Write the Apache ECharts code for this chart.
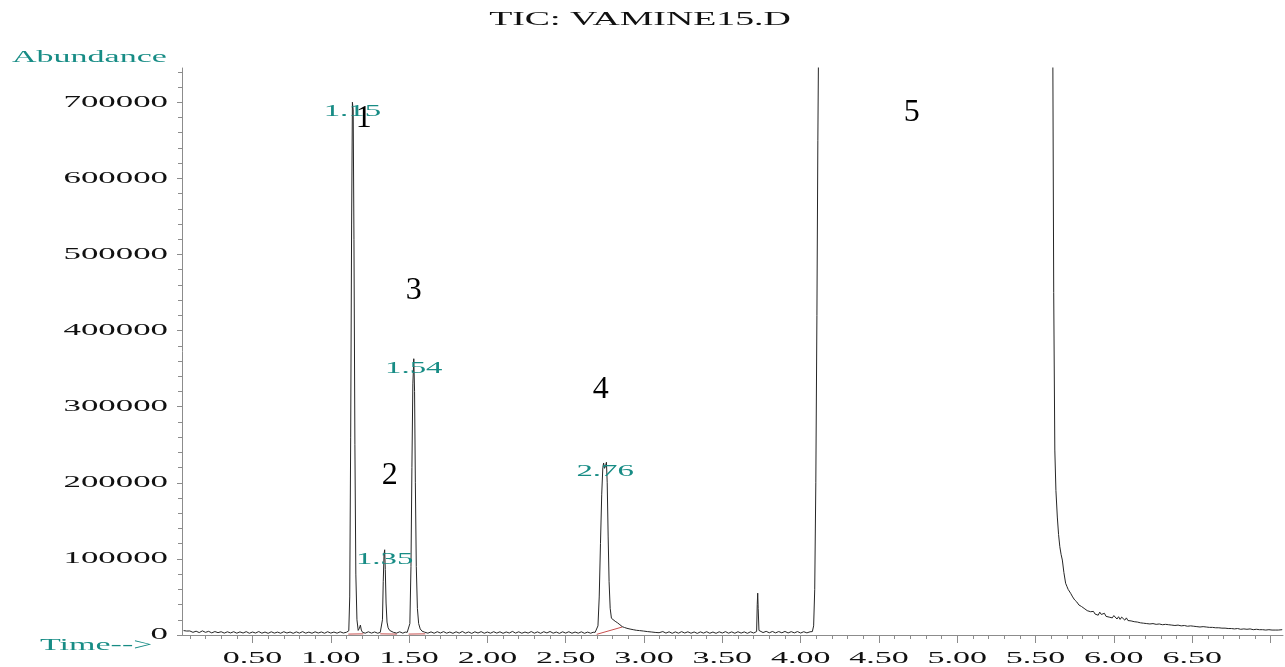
<!DOCTYPE html>
<html><head><meta charset="utf-8">
<script src="https://cdn.jsdelivr.net/npm/echarts@6/dist/echarts.min.js"></script>
<style>html,body{margin:0;padding:0;background:#fff}#c{width:1285px;height:667px}</style>
</head><body><div id="c"></div>
<script>
// ---- data (time in min, abundance) ----
const baselineStart = [[0.06,5800],[0.07,4000],[0.08,5200],[0.09,3600],[0.10,5300],[0.12,3500],[0.14,5000],[0.16,3200],[0.18,5400],[0.20,3500],[0.22,4800],[0.24,2800],[0.26,4500],[0.28,3100],[0.30,4300],[0.32,2500],[0.34,4200],[0.36,2700],[0.38,4300],[0.40,2400],[0.42,4100],[0.44,2600],[0.46,4400],[0.48,2300],[0.50,3900],[0.52,2600],[0.54,4500],[0.56,2400],[0.58,3900],[0.60,2200],[0.62,4200],[0.64,2500],[0.66,3800],[0.68,2300],[0.70,4300],[0.72,2600],[0.74,3900],[0.76,2200],[0.78,4100],[0.80,2500],[0.82,4400],[0.84,2400],[0.86,3800],[0.88,2300],[0.90,4200],[0.92,2600],[0.94,4000],[0.96,2300],[0.98,4300],[1.00,2500],[1.02,3900],[1.04,2400],[1.06,4200],[1.08,2600],[1.10,3600]];
const peak1 = [[1.108,3500],[1.115,5500],[1.121,50000],[1.127,260000],[1.133,540000],[1.138,700000],[1.143,690000],[1.148,520000],[1.154,250000],[1.160,80000],[1.167,20000],[1.175,6000],[1.183,9000],[1.189,13000],[1.195,6500],[1.203,3500]];
const between12 = [[1.22,2400],[1.24,4200],[1.26,2500],[1.28,4000],[1.30,2300],[1.31,3600]];
const peak2 = [[1.316,3500],[1.324,4500],[1.330,20000],[1.335,70000],[1.340,106000],[1.344,112000],[1.348,86000],[1.353,42000],[1.359,17000],[1.366,9500],[1.376,6000],[1.388,4500],[1.400,3500]];
const between23 = [[1.42,2500],[1.44,4200],[1.46,2400],[1.475,3800]];
const peak3 = [[1.488,3500],[1.497,4500],[1.505,15000],[1.512,90000],[1.518,220000],[1.524,330000],[1.530,363000],[1.535,320000],[1.540,200000],[1.546,90000],[1.553,35000],[1.561,15000],[1.571,8000],[1.583,5000],[1.598,3800]];
const between34 = [[1.62,2400],[1.64,4100],[1.66,2300],[1.68,4300],[1.70,2600],[1.72,4400],[1.74,2400],[1.76,3900],[1.78,2200],[1.80,4200],[1.82,2500],[1.84,4600],[1.86,2400],[1.88,4000],[1.90,2100],[1.92,4200],[1.94,2600],[1.96,4400],[1.98,2300],[2.00,3900],[2.02,2400],[2.04,4300],[2.06,2500],[2.08,4200],[2.10,2200],[2.12,4000],[2.14,2600],[2.16,4700],[2.18,2500],[2.20,4200],[2.22,2300],[2.24,3900],[2.26,2500],[2.28,4500],[2.30,2400],[2.32,4100],[2.34,2200],[2.36,4300],[2.38,2700],[2.40,4600],[2.42,2400],[2.44,3900],[2.46,2100],[2.48,4200],[2.50,2500],[2.52,4300],[2.54,2300],[2.56,3900],[2.58,2400],[2.60,4200],[2.62,2200],[2.64,3800],[2.66,2300],[2.675,3600]];
const peak4 = [[2.688,3500],[2.698,4500],[2.706,12000],[2.714,50000],[2.722,120000],[2.730,185000],[2.737,220000],[2.742,226000],[2.748,219000],[2.754,222000],[2.760,227000],[2.765,200000],[2.771,130000],[2.777,70000],[2.784,35000],[2.792,22000],[2.804,19500],[2.816,18000],[2.824,19500],[2.831,16000],[2.838,16500],[2.846,13500],[2.853,14500],[2.861,11000],[2.868,12000],[2.876,9800],[2.884,10500],[2.891,8800],[2.901,9500],[2.911,7800],[2.921,8800],[2.931,7000],[2.941,8000],[2.951,6200],[2.961,7200],[2.971,5800],[2.983,6800],[2.996,5200],[3.008,6200],[3.021,4500],[3.033,5500],[3.046,4000],[3.058,4900],[3.071,3400],[3.083,4400],[3.096,3000]];
const between45 = [[3.12,4500],[3.14,2500],[3.16,4200],[3.18,2200],[3.20,4100],[3.22,2400],[3.24,4400],[3.26,2600],[3.28,4200],[3.30,2300],[3.32,4000],[3.34,2100],[3.36,4100],[3.38,2500],[3.40,4300],[3.42,2300],[3.44,3900],[3.46,2200],[3.48,4200],[3.50,2600],[3.52,4400],[3.54,2400],[3.56,4100],[3.58,2300],[3.60,4300],[3.62,2500],[3.64,4100],[3.66,2200],[3.68,4200],[3.70,2600]];
const spike = [[3.712,3000],[3.719,4500],[3.723,40000],[3.726,55000],[3.729,35000],[3.734,6000],[3.742,4500]];
const beforeMain = [[3.76,3200],[3.78,4800],[3.80,2900],[3.82,4600],[3.84,2800],[3.86,4500],[3.88,2900],[3.90,4700],[3.92,2700],[3.94,4400],[3.96,2800],[3.98,4500],[4.00,2600],[4.02,4300],[4.04,2800],[4.06,4200]];
const peak5 = [[4.075,4500],[4.083,12000],[4.090,60000],[4.097,200000],[4.104,420000],[4.110,650000],[4.116,820000],[4.13,1400000],[4.2,2500000],[4.5,3000000],[5.0,3000000],[5.5,2200000],[5.58,1500000],[5.600,1000000],[5.610,780000],[5.616,450000],[5.623,243000],[5.630,190000],[5.639,155000],[5.647,132000],[5.655,116000],[5.663,106000],[5.671,98500],[5.681,82000],[5.692,68000],[5.700,64000],[5.708,60000],[5.716,57500],[5.724,54800],[5.737,50000],[5.750,46000],[5.763,43500],[5.777,39400],[5.793,37500],[5.810,35000],[5.830,32000],[5.851,30600]];
const tail5 = [[5.87,31000],[5.88,27500],[5.89,29500],[5.90,26000],[5.91,30000],[5.92,27000],[5.93,25000],[5.94,28500],[5.95,24500],[5.96,27000],[5.97,23500],[5.98,26000],[5.99,22500],[6.00,25500],[6.01,23000],[6.02,21000],[6.03,24000],[6.04,20500],[6.05,23500],[6.06,21000],[6.07,19500],[6.08,22500],[6.09,19000],[6.10,21500],[6.11,18500],[6.12,20500],[6.13,17500],[6.14,19500],[6.15,17000],[6.16,18500],[6.17,16000],[6.18,18500],[6.19,15500],[6.20,17500],[6.21,15000],[6.22,17000],[6.23,14500],[6.24,17000],[6.25,15000],[6.26,16500],[6.27,14000],[6.28,16500],[6.29,14500],[6.30,16000],[6.31,13500],[6.32,15500],[6.33,14000],[6.34,16000],[6.35,13500],[6.36,15500],[6.37,13000],[6.38,15000],[6.39,12500],[6.40,14500],[6.41,13000],[6.42,15000],[6.43,12000],[6.44,14000],[6.45,12500],[6.46,14500],[6.47,11500],[6.48,13500],[6.49,12000],[6.50,14000],[6.51,11500],[6.52,13000],[6.53,11000],[6.54,13000],[6.55,10500],[6.56,12500],[6.57,11000],[6.58,13500],[6.59,10500],[6.60,12000],[6.61,10000],[6.62,12500],[6.63,10000],[6.64,11500],[6.65,9500],[6.66,11500],[6.67,9500],[6.68,12000],[6.69,9000],[6.70,11000],[6.71,9000],[6.72,10500],[6.73,8500],[6.74,10500],[6.75,8500],[6.76,10000],[6.77,8000],[6.78,10000],[6.79,8500],[6.80,9500],[6.81,7500],[6.82,9500],[6.83,8000],[6.84,10000],[6.85,7500],[6.86,9500],[6.87,8000],[6.88,9000],[6.89,7000],[6.90,9500],[6.91,7500],[6.92,9000],[6.93,7000],[6.94,8500],[6.95,7000],[6.96,9000],[6.97,6500],[6.98,8500],[6.99,7000],[7.00,8500],[7.01,6500],[7.02,8000],[7.03,6500],[7.04,8500],[7.05,6500],[7.06,8000],[7.075,7000]];

// integration baselines (red)
const integ1 = [[1.112,1200],[1.208,1500]];
const integ2 = [[1.316,1500],[1.422,1200]];
const integ3 = [[1.497,1200],[1.603,1500]];
const integ4 = [[2.698,900],[2.861,10500]];

// peak retention-time labels, anchored at the apex
const peakLabels = ['1.15','1.35','1.54','2.76'];
const peakApexTime = [1.138,1.344,1.530,2.752];
const peakApexAbund = [700000,112000,363000,227000];

// hand annotations
const annoText = ['1','2','3','4','5'];
const annoTime = [1.21,1.376,1.53,2.724,4.709];
const annoAbund = [679000,210000,452000,323000,687000];

// axes
const xTickLabels = ['0.50','1.00','1.50','2.00','2.50','3.00','3.50','4.00','4.50','5.00','5.50','6.00','6.50'];
const xMajorTicks = [0.5,1.0,1.5,2.0,2.5,3.0,3.5,4.0,4.5,5.0,5.5,6.0,6.5,7.0];
const yTickLabels = ['0','100000','200000','300000','400000','500000','600000','700000'];
const X_MIN = 0.05, X_MAX = 7.08, Y_MIN = 0, Y_MAX = 745000;

const xMinorTicks = []; for (let i = 1; i <= 70; i++) xMinorTicks.push(i / 10);
const yMinorTicks = []; for (let i = 0; i <= 37; i++) yMinorTicks.push(i * 20000);
const yMajorTicks = yTickLabels.map(Number);

const trace = [].concat(baselineStart, peak1, between12, peak2, between23, peak3, between34, peak4, between45, spike, beforeMain, peak5, tail5);

const AX = '#8c8c8c';
const TEAL = '#178c85';
const SERIF = '"Liberation Serif","Times New Roman",serif';

function xAx(ticks, len, showLine) {
  return {type:'value', gridIndex:0, min:X_MIN, max:X_MAX, position:'bottom',
    axisLine:{show:showLine, onZero:false, lineStyle:{color:AX, width:1}},
    axisTick:{show:true, customValues:ticks, length:len, lineStyle:{color:AX, width:1}},
    axisLabel:{show:false}, splitLine:{show:false}};
}
function yAx(ticks, len, showLine) {
  return {type:'value', gridIndex:0, min:Y_MIN, max:Y_MAX, position:'left',
    axisLine:{show:showLine, onZero:false, lineStyle:{color:AX, width:1}},
    axisTick:{show:true, customValues:ticks, length:len, lineStyle:{color:AX, width:1}},
    axisLabel:{show:false}, splitLine:{show:false}};
}
function redLine(d) {
  return {type:'line', data:d, showSymbol:false, symbol:'none', silent:true,
    lineStyle:{color:'#c8504f', width:1}, z:1};
}

const chart = echarts.init(document.getElementById('c'));
chart.setOption({
  animation:false,
  backgroundColor:'#ffffff',
  grid:{left:182, top:68, right:2, bottom:32, containLabel:false},
  xAxis:[xAx(xMajorTicks, 8, true), xAx(xMinorTicks, 4, false)],
  yAxis:[yAx(yMajorTicks, 5, true), yAx(yMinorTicks, 4, false)],
  series:[
    redLine(integ1), redLine(integ2), redLine(integ3), redLine(integ4),
    {type:'line', data:trace, showSymbol:false, symbol:'none', clip:true, silent:true,
     lineStyle:{color:'#262626', width:1}, z:2}
  ]
});

const toPx = (t, a) => chart.convertToPixel({xAxisIndex:0, yAxisIndex:0}, [t, a]);
function txt(text, x, y, align, vAlign, size, color, sx) {
  return {type:'text', x:x, y:y, scaleX:sx, scaleY:1, silent:true, z:100,
    style:{text:text, fontSize:size, fontFamily:SERIF, fill:color,
      align:align, verticalAlign:vAlign, textAlign:align, textVerticalAlign:vAlign}};
}
const g = [];
g.push(txt('TIC: VAMINE15.D', 640, 20, 'center', 'middle', 18, '#111', 2.1));
g.push(txt('Abundance', 12, 58, 'left', 'middle', 17, TEAL, 2.0));
g.push(txt('Time-->', 40, 646, 'left', 'middle', 17, TEAL, 2.0));
xTickLabels.forEach(l => { const p = toPx(Number(l), 0); g.push(txt(l, p[0], p[1] + 24, 'center', 'middle', 17, '#111', 2.0)); });
yTickLabels.forEach(l => { const p = toPx(X_MIN, Number(l)); g.push(txt(l, p[0] - 14, p[1], 'right', 'middle', 17, '#111', 2.05)); });
peakLabels.forEach((l, i) => { const p = toPx(peakApexTime[i], peakApexAbund[i]); g.push(txt(l, p[0], p[1] + 10, 'center', 'middle', 16, TEAL, 2.05)); });
annoText.forEach((l, i) => { const p = toPx(annoTime[i], annoAbund[i]); g.push(txt(l, p[0], p[1], 'center', 'middle', 32, '#000', 1)); });
chart.setOption({graphic:{elements:g}});
</script>
</body></html>
